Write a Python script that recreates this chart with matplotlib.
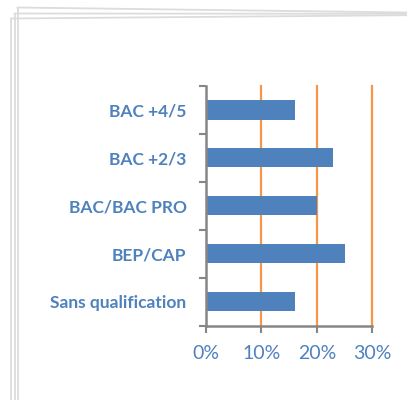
#!/usr/bin/env python3

"""Horizontal bar chart of share by qualification level."""

import matplotlib

matplotlib.use("Agg")
import matplotlib.pyplot as plt
from matplotlib.lines import Line2D
from matplotlib.ticker import FixedLocator, PercentFormatter

# bottom to top
levels = ["Sans qualification", "BEP/CAP", "BAC/BAC PRO", "BAC +2/3", "BAC +4/5"]
shares = [16, 25, 20, 23, 16]
x_ticks = [0, 10, 20, 30]

BAR_COLOR = "#4F81BD"
TEXT_COLOR = "#4F81BD"
GRID_COLOR = "#F79646"
AXIS_COLOR = "#868686"
FRAME_COLOR = "#DCDCDC"


def draw_frame(fig) -> None:
    # stacked-page border along the top and left edges
    w, h = 407.0, 400.0
    tops = [(17.5, 7.5, 12.5), (14.5, 13.5, 13.8), (11, 18.5, 15.2)]
    for x0, y_left, y_right in tops:
        fig.add_artist(Line2D([x0 / w, 1.0], [1 - y_left / h, 1 - y_right / h],
                              color=FRAME_COLOR, linewidth=1.3,
                              transform=fig.transFigure))
        fig.add_artist(Line2D([x0 / w, x0 / w], [1 - y_left / h, 0.0],
                              color=FRAME_COLOR, linewidth=1.3,
                              transform=fig.transFigure))


def main() -> None:
    plt.rcParams["font.family"] = ["Lato", "DejaVu Sans"]

    fig = plt.figure(figsize=(4.07, 4.00), dpi=100)
    fig.patch.set_facecolor("white")
    ax = fig.add_axes([206 / 407, 1 - 325.7 / 400, (372.3 - 206) / 407, (325.7 - 86) / 400])

    positions = list(range(len(levels)))
    ax.barh(positions, shares, height=0.4, color=BAR_COLOR, zorder=3)

    ax.set_xlim(0, 30)
    ax.set_ylim(-0.5, len(levels) - 0.5)

    ax.set_xticks(x_ticks)
    ax.xaxis.set_major_formatter(PercentFormatter(decimals=0))
    ax.tick_params(axis="x", which="major", length=5, width=1.5, color=AXIS_COLOR,
                   pad=9, labelsize=14, labelcolor=TEXT_COLOR)

    # tick marks sit on category boundaries, labels in the middle
    ax.yaxis.set_major_locator(FixedLocator([p - 0.5 for p in positions] + [len(levels) - 0.5]))
    ax.yaxis.set_major_formatter(plt.NullFormatter())
    ax.yaxis.set_minor_locator(FixedLocator(positions))
    ax.set_yticklabels(levels, minor=True)
    ax.tick_params(axis="y", which="major", length=5, width=1.5, color=AXIS_COLOR)
    ax.tick_params(axis="y", which="minor", length=0, pad=14, labelsize=12.5,
                   labelcolor=TEXT_COLOR)
    for label in ax.get_yticklabels(minor=True):
        label.set_fontweight("bold")

    for v in x_ticks[1:]:
        ax.axvline(v, color=GRID_COLOR, linewidth=1.6, zorder=1, clip_on=False)

    for side in ("top", "right"):
        ax.spines[side].set_visible(False)
    for side in ("left", "bottom"):
        ax.spines[side].set_color(AXIS_COLOR)
        ax.spines[side].set_linewidth(1.8)
        ax.spines[side].set_zorder(4)

    draw_frame(fig)
    fig.savefig("out.png", dpi=100, facecolor="white")


if __name__ == "__main__":
    main()
